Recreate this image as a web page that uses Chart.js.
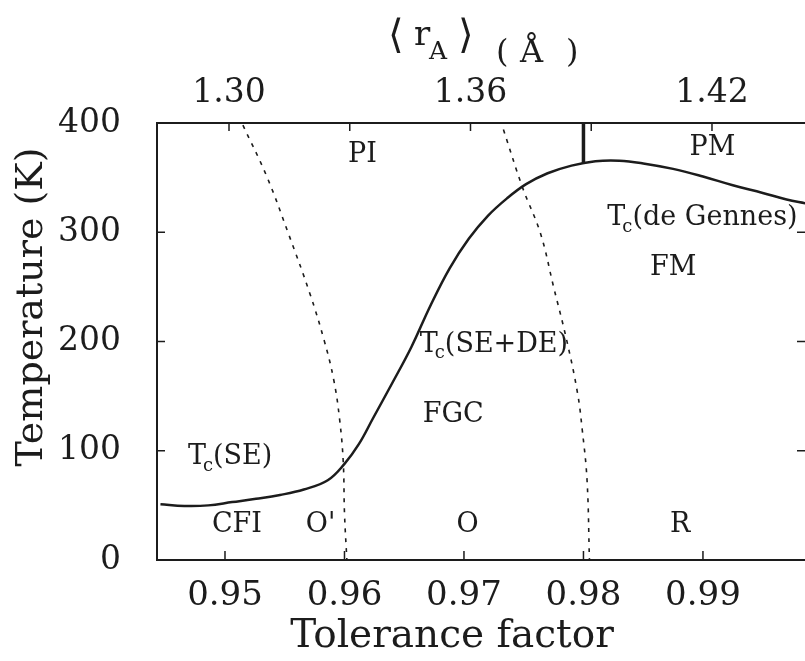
<!DOCTYPE html>
<html>
<head>
<meta charset="utf-8">
<script src="https://cdn.jsdelivr.net/npm/chart.js@4.4.0/dist/chart.umd.min.js"></script>
<style>
  html, body { margin: 0; padding: 0; background: #fff; }
</style>
</head>
<body>
<canvas id="chart" width="805" height="661"></canvas>
<script>
// Tc curve (tolerance factor vs temperature)
var tcTolerance = [0.9446, 0.9466, 0.9486, 0.9506, 0.9526, 0.9546, 0.9566, 0.9586, 0.9600, 0.9612, 0.9624, 0.9640, 0.9656, 0.9672, 0.9688, 0.9704, 0.9720, 0.9736, 0.9752, 0.9770, 0.9790, 0.9810, 0.9830, 0.9850, 0.9875, 0.9900, 0.9925, 0.9950, 0.9970, 0.9986];
var tcKelvin = [51, 49.5, 50, 53, 56, 59.5, 64.5, 73, 88, 106, 130, 162, 195, 233, 267, 294, 315, 331, 344, 354, 361, 365, 365.5, 363, 358, 351, 343, 336, 330, 326.5];

// structural boundaries (dashed)
var boundaryOT = [0.9515, 0.9535, 0.9553, 0.9571, 0.9583, 0.9591, 0.9596, 0.9599, 0.9600, 0.9602];
var boundaryOK = [398, 351, 299, 244, 201, 165, 128, 89, 43, 0];
var boundaryRT = [0.9733, 0.9749, 0.9764, 0.9775, 0.9786, 0.9795, 0.9799, 0.9803, 0.9805];
var boundaryRK = [394, 341, 299, 250, 201, 153, 119, 73, 0];

// PM/PI vertical separator
var separatorT = [0.98, 0.98];
var separatorK = [400, 363];

// ticks
var bottomTicks = [0.95, 0.96, 0.97, 0.98, 0.99];
var topTicks = [1.30, 1.33, 1.36, 1.39, 1.42];
var topTickLabels = ['1.30', '', '1.36', '', '1.42'];
var yTicks = [0, 100, 200, 300, 400];

// region labels
var regionNames = ['PI', 'PM', 'FM', 'FGC', 'CFI', "O'", 'O', 'R'];
var regionT = [0.9615, 0.9908, 0.9875, 0.9691, 0.9510, 0.9580, 0.9703, 0.9881];
var regionK = [371, 377, 267, 133, 32, 32, 32, 32];

// Tc labels (left aligned)
var tcNames = ['(SE)', '(SE+DE)', '(de Gennes)'];
var tcLabelT = [0.9469, 0.9663, 0.9820];
var tcLabelK = [94, 197, 313];

var ink = '#1c1c1c';
var serif = '"DejaVu Serif", serif';

function pts(xs, ys) {
    return xs.map((x, i) => ({ x: x, y: ys[i] }));
}

var decorPlugin = {
    id: 'decor',
    afterDraw(chart) {
        var ctx = chart.ctx;
        var x = chart.scales.x;
        var x2 = chart.scales.x2;
        var y = chart.scales.y;
        var area = chart.chartArea;
        ctx.save();
        ctx.strokeStyle = ink;
        ctx.lineWidth = 1.5;

        // inward tick marks
        ctx.beginPath();
        bottomTicks.forEach(v => {
            var px = x.getPixelForValue(v);
            ctx.moveTo(px, area.bottom);
            ctx.lineTo(px, area.bottom - 9);
        });
        topTicks.forEach(v => {
            var px = x2.getPixelForValue(v);
            ctx.moveTo(px, area.top);
            ctx.lineTo(px, area.top + 8);
        });
        yTicks.slice(1, 4).forEach(v => {
            var py = y.getPixelForValue(v);
            ctx.moveTo(area.left, py);
            ctx.lineTo(area.left + 8, py);
            ctx.moveTo(area.right, py);
            ctx.lineTo(area.right - 8, py);
        });
        ctx.stroke();

        ctx.fillStyle = ink;

        // region labels
        ctx.font = '27px ' + serif;
        ctx.textAlign = 'center';
        ctx.textBaseline = 'middle';
        regionNames.forEach((name, i) => {
            ctx.fillText(name, x.getPixelForValue(regionT[i]), y.getPixelForValue(regionK[i]));
        });

        // Tc labels with subscript
        ctx.textAlign = 'left';
        tcNames.forEach((name, i) => {
            var px = x.getPixelForValue(tcLabelT[i]);
            var py = y.getPixelForValue(tcLabelK[i]);
            ctx.font = '27px ' + serif;
            ctx.fillText('T', px, py);
            var w = ctx.measureText('T').width;
            ctx.font = '18px ' + serif;
            ctx.fillText('c', px + w - 3, py + 9);
            var w2 = ctx.measureText('c').width;
            ctx.font = '27px ' + serif;
            ctx.fillText(name, px + w + w2 - 3, py);
        });

        // top axis title
        ctx.textBaseline = 'alphabetic';
        ctx.font = '40px ' + serif;
        ctx.fillText('\u27E8', 388, 48);
        ctx.font = '34px ' + serif;
        ctx.fillText('r', 414, 45);
        ctx.font = '25px ' + serif;
        ctx.fillText('A', 429, 59);
        ctx.font = '40px ' + serif;
        ctx.fillText('\u27E9', 458, 48);
        ctx.font = '32px ' + serif;
        ctx.fillText('(', 496, 62);
        ctx.fillText('\u00C5', 520, 62);
        ctx.fillText(')', 566, 62);

        // axis titles
        ctx.font = '39px ' + serif;
        ctx.textAlign = 'center';
        ctx.textBaseline = 'middle';
        ctx.fillText('Tolerance factor', 452, 637);
        ctx.translate(32, 307);
        ctx.rotate(-Math.PI / 2);
        ctx.font = '38px ' + serif;
        ctx.fillText('Temperature (K)', 0, 0);
        ctx.restore();
    }
};

var ctx = document.getElementById('chart').getContext('2d');
var chart = new Chart(ctx, {
    type: 'scatter',
    data: {
        datasets: [
            {
                label: 'Tc',
                data: pts(tcTolerance, tcKelvin),
                showLine: true,
                borderColor: ink,
                borderWidth: 2.5,
                pointRadius: 0,
                tension: 0.4
            },
            {
                label: "O'/O",
                data: pts(boundaryOT, boundaryOK),
                showLine: true,
                borderColor: ink,
                borderWidth: 1.6,
                borderDash: [4, 6],
                pointRadius: 0,
                tension: 0.4
            },
            {
                label: 'O/R',
                data: pts(boundaryRT, boundaryRK),
                showLine: true,
                borderColor: ink,
                borderWidth: 1.6,
                borderDash: [4, 6],
                pointRadius: 0,
                tension: 0.4
            },
            {
                label: 'PI/PM',
                data: pts(separatorT, separatorK),
                showLine: true,
                borderColor: ink,
                borderWidth: 3.5,
                pointRadius: 0
            }
        ]
    },
    options: {
        responsive: false,
        animation: false,
        layout: { padding: 0 },
        plugins: {
            legend: { display: false },
            tooltip: { enabled: false }
        },
        scales: {
            x: {
                type: 'linear',
                position: 'bottom',
                min: 0.94431,
                max: 0.99854,
                afterBuildTicks: (s) => { s.ticks = bottomTicks.map(v => ({ value: v })); },
                afterFit: (s) => { s.height = 101; },
                grid: { display: false },
                border: { display: true, color: ink, width: 2 },
                ticks: {
                    color: ink,
                    padding: 8,
                    font: { family: serif, size: 34 },
                    maxRotation: 0,
                    callback: (v) => v.toFixed(2)
                }
            },
            x2: {
                type: 'linear',
                position: 'top',
                min: 1.28211,
                max: 1.44311,
                afterBuildTicks: (s) => { s.ticks = topTicks.map(v => ({ value: v })); },
                afterFit: (s) => { s.height = 123; },
                grid: { display: false },
                border: { display: true, color: ink, width: 2 },
                ticks: {
                    color: ink,
                    padding: 2,
                    font: { family: serif, size: 33 },
                    maxRotation: 0,
                    callback: (v) => topTickLabels[topTicks.findIndex(t => Math.abs(t - v) < 1e-6)] || ''
                }
            },
            y: {
                type: 'linear',
                position: 'left',
                min: 0,
                max: 400,
                afterBuildTicks: (s) => { s.ticks = yTicks.map(v => ({ value: v })); },
                afterFit: (s) => { s.width = 157; },
                grid: { display: false },
                border: { display: true, color: ink, width: 2 },
                ticks: {
                    color: ink,
                    padding: 28,
                    font: { family: serif, size: 33 }
                }
            }
        }
    },
    plugins: [decorPlugin]
});
</script>
</body>
</html>
